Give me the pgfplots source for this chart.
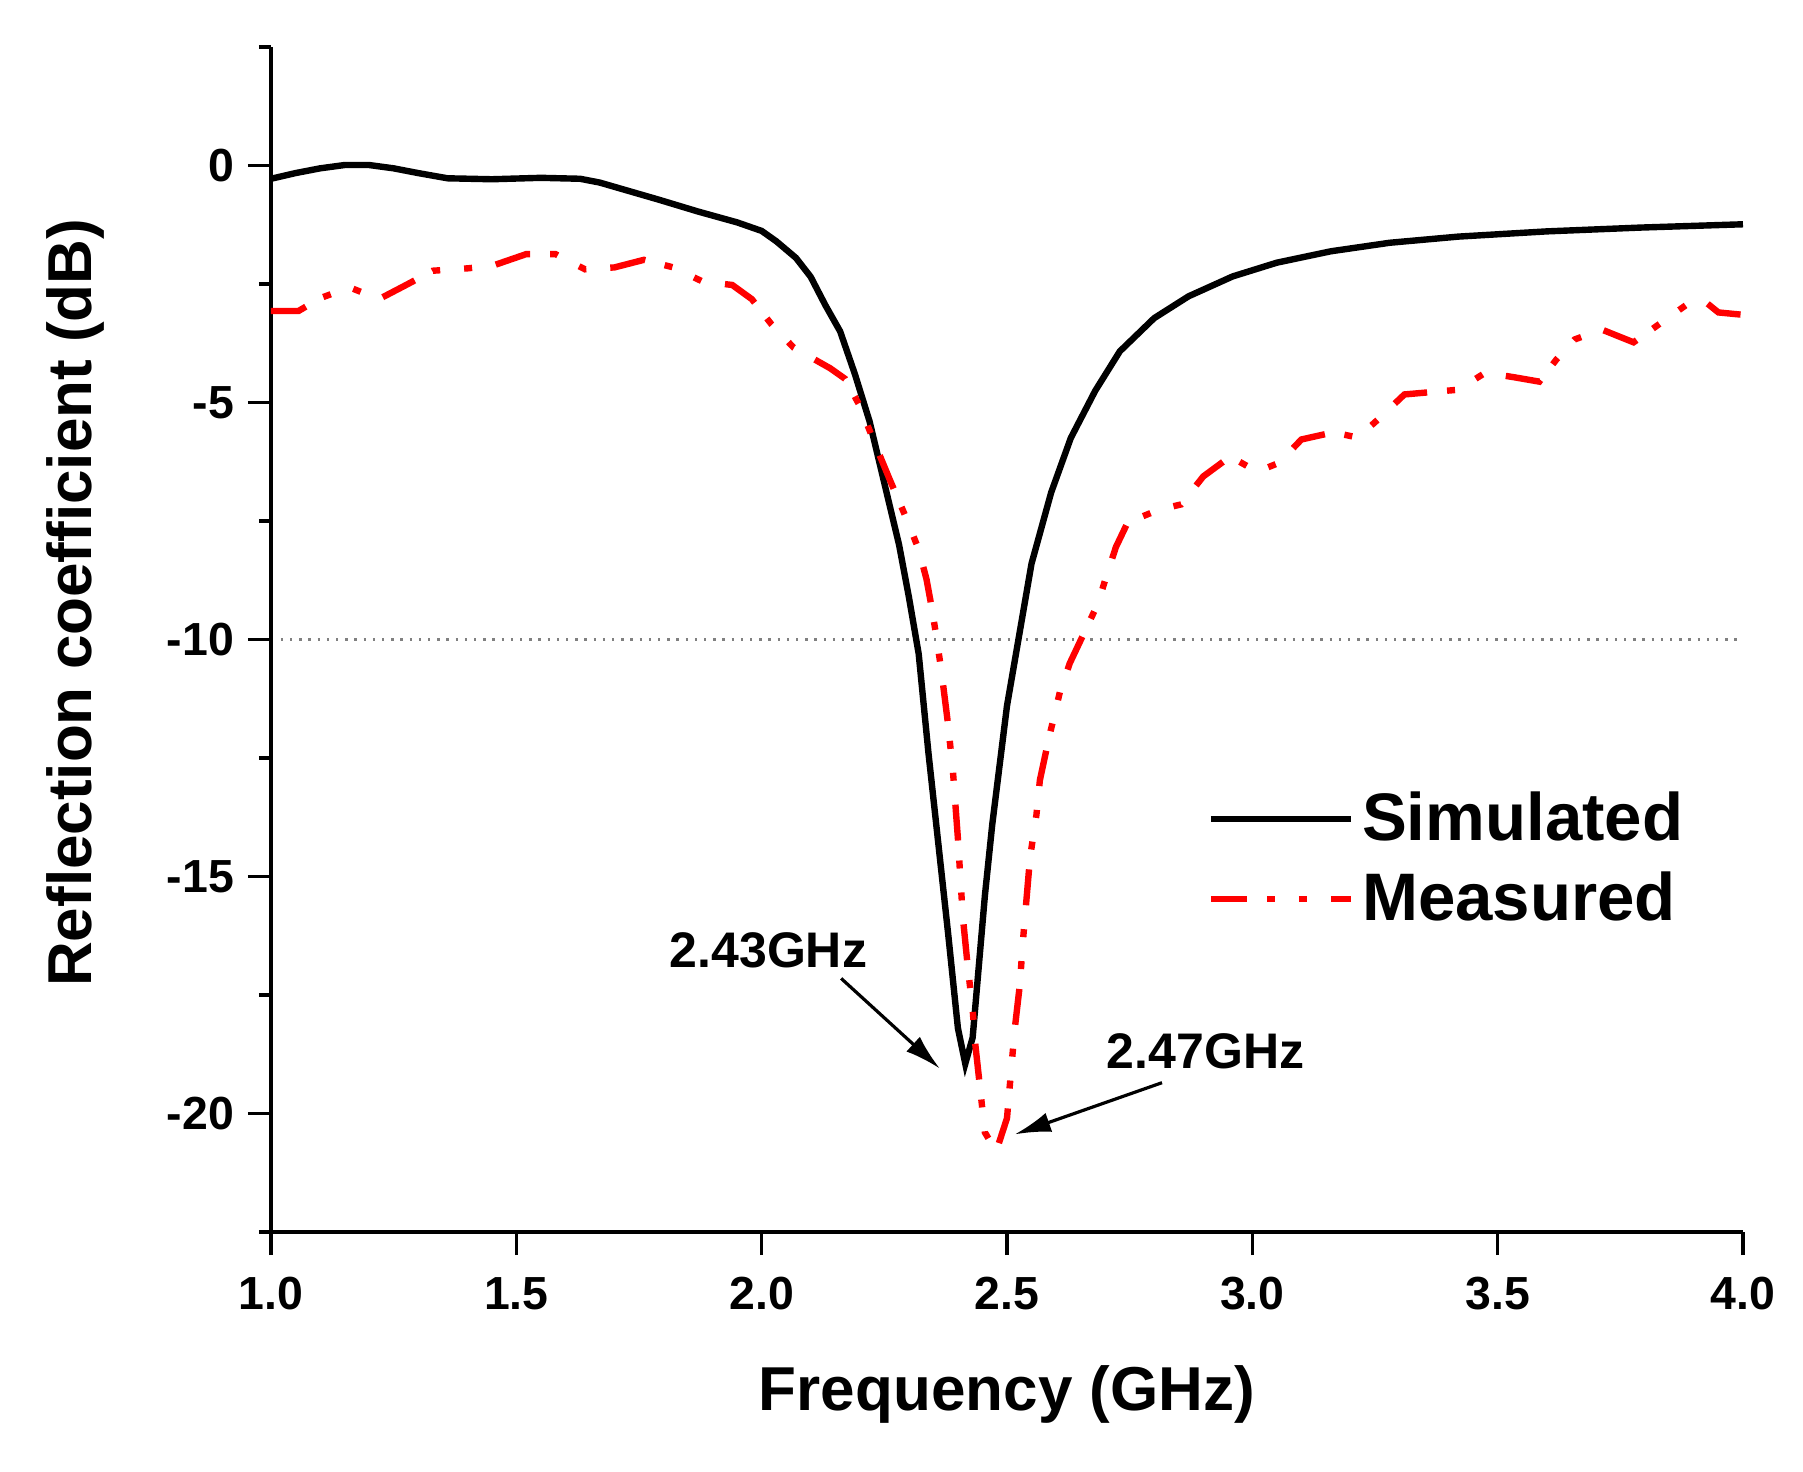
\documentclass[border=0pt]{standalone}
\usepackage{pgfplots}
\pgfplotsset{compat=1.18}
\usepackage{fontspec}
\setmainfont{Liberation Sans}
\usetikzlibrary{arrows.meta}
\pgfplotstableread{
x y
1.00 -0.28
1.05 -0.16
1.10 -0.06
1.15 0.01
1.20 0.01
1.25 -0.06
1.30 -0.16
1.36 -0.27
1.45 -0.29
1.55 -0.26
1.63 -0.28
1.67 -0.36
1.71 -0.48
1.79 -0.72
1.87 -0.97
1.95 -1.20
2.00 -1.38
2.03 -1.60
2.07 -1.95
2.10 -2.35
2.13 -2.95
2.16 -3.50
2.19 -4.40
2.22 -5.40
2.25 -6.70
2.28 -8.00
2.30 -9.10
2.32 -10.30
2.34 -12.40
2.36 -14.30
2.38 -16.20
2.40 -18.20
2.415 -18.95
2.43 -18.40
2.44 -17.20
2.455 -15.40
2.47 -13.90
2.50 -11.40
2.525 -9.90
2.55 -8.40
2.59 -6.90
2.63 -5.75
2.68 -4.75
2.73 -3.92
2.80 -3.22
2.87 -2.76
2.96 -2.34
3.05 -2.05
3.16 -1.81
3.28 -1.63
3.42 -1.50
3.60 -1.39
3.79 -1.31
4.00 -1.24
}\simulated
\pgfplotstableread{
x y
1.00 -3.07
1.056 -3.07
1.10 -2.80
1.16 -2.57
1.22 -2.82
1.27 -2.55
1.33 -2.22
1.40 -2.17
1.45 -2.12
1.52 -1.87
1.58 -1.87
1.64 -2.19
1.70 -2.15
1.76 -1.99
1.82 -2.15
1.88 -2.45
1.94 -2.52
1.98 -2.82
2.02 -3.35
2.065 -3.84
2.14 -4.28
2.17 -4.50
2.20 -5.07
2.23 -5.85
2.26 -6.60
2.296 -7.47
2.32 -8.10
2.336 -8.73
2.347 -9.35
2.357 -10.00
2.367 -10.72
2.38 -11.80
2.39 -12.80
2.40 -14.20
2.41 -15.85
2.42 -16.90
2.43 -17.80
2.435 -18.50
2.445 -19.45
2.455 -20.40
2.478 -20.80
2.50 -20.10
2.51 -18.90
2.516 -18.20
2.526 -17.30
2.533 -16.30
2.547 -14.60
2.56 -13.70
2.567 -12.97
2.585 -12.10
2.608 -11.10
2.628 -10.50
2.66 -9.80
2.685 -9.25
2.70 -8.75
2.722 -8.05
2.746 -7.53
2.81 -7.26
2.855 -7.15
2.90 -6.56
2.955 -6.14
3.01 -6.46
3.055 -6.27
3.10 -5.78
3.165 -5.63
3.215 -5.74
3.256 -5.36
3.31 -4.83
3.42 -4.73
3.475 -4.37
3.535 -4.47
3.585 -4.56
3.62 -4.09
3.657 -3.67
3.712 -3.46
3.777 -3.73
3.822 -3.40
3.886 -2.93
3.92 -2.85
3.95 -3.10
4.00 -3.15
}\measured
\begin{document}
\begin{tikzpicture}
\begin{axis}[
  scale only axis,
  width=368pt, height=296.25pt,
  xmin=1, xmax=4, ymin=-22.5, ymax=2.5,
  axis lines=left,
  axis line style={-, line width=0.8pt},
  tick align=outside,
  major tick length=5.75pt,
  minor tick length=3pt,
  every tick/.style={black, line width=0.8pt},
  xtick={1,1.5,2,2.5,3,3.5,4},
  ytick={-20,-15,-10,-5,0},
  minor ytick={-22.5,-17.5,-12.5,-7.5,-2.5,2.5},
  /pgf/number format/assume math mode=true,
  ticklabel style={font=\fontsize{11.6}{13}\selectfont\bfseries},
  xticklabel style={yshift=-2pt, /pgf/number format/fixed, /pgf/number format/fixed zerofill, /pgf/number format/precision=1},
  xlabel={Frequency (GHz)},
  ylabel={Reflection coefficient (dB)},
  label style={font=\fontsize{15.5}{18}\selectfont\bfseries},
  xlabel style={at={(axis description cs:0.5,-0.151)}, anchor=base},
  ylabel style={at={(axis description cs:-0.133,0.531)}, anchor=center},
  legend style={at={(axis cs:2.909,-14.63)}, anchor=west, draw=none, fill=none,
    font=\fontsize{16.8}{19}\selectfont\bfseries, inner sep=0pt, outer sep=0pt,
    row sep=2.2pt, nodes={inner sep=2pt, text depth=0.15em}},
  legend cell align=left,
  legend image code/.code={\draw[#1] (0pt,0pt) -- (35pt,0pt);},
  clip=false,
]
\addplot[gray, line width=0.6pt, dash pattern=on 0.6pt off 1.7pt, forget plot] coordinates {(1.02,-10) (4,-10)};
\addplot[black, line width=1.6pt] table[x=x,y=y] {\simulated};
\addlegendentry{Simulated}
\addplot[red, line width=1.6pt, dash pattern=on 9pt off 5pt on 2pt off 6pt on 2pt off 6pt] table[x=x,y=y] {\measured};
\addlegendentry{Measured}
\node[anchor=base west, font=\fontsize{12.5}{14}\selectfont\bfseries, inner sep=0pt] at (axis cs:1.811,-16.92) {2.43GHz};
\node[anchor=base west, font=\fontsize{12.5}{14}\selectfont\bfseries, inner sep=0pt] at (axis cs:2.702,-19.05) {2.47GHz};
\draw[line width=0.8pt, -{Latex[length=9pt,width=5pt]}] (axis cs:2.162,-17.15) -- (axis cs:2.363,-19.05);
\draw[line width=0.8pt, -{Latex[length=9pt,width=5pt]}] (axis cs:2.816,-19.35) -- (axis cs:2.516,-20.44);
\coordinate (A) at (rel axis cs:0,0);
\end{axis}
\pgfresetboundingbox
\path ([xshift=-67.75pt,yshift=-59.75pt]A) rectangle ++(450.75pt,367.75pt);
\end{tikzpicture}
\end{document}
